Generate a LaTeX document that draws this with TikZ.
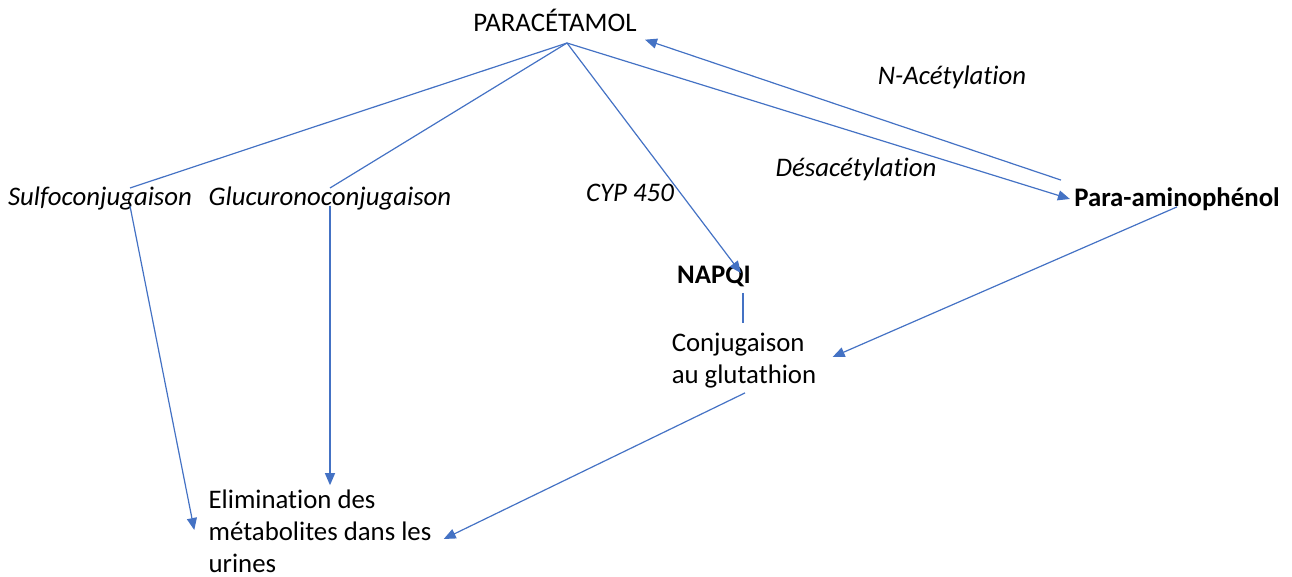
\documentclass[tikz,border=0pt]{standalone}
\usepackage{fontspec}
\setmainfont{Carlito}[Ligatures=NoCommon]
\usetikzlibrary{arrows.meta}

\definecolor{linkblue}{RGB}{68,114,196}

\tikzset{%
  step label/.style={inner sep=0pt, font=\fontsize{13.4}{16}\selectfont},
  enzyme label/.style={step label, font=\fontsize{13.4}{16}\selectfont\itshape},
  product label/.style={step label, font=\fontsize{13.4}{16}\selectfont\bfseries},
  link/.style={draw=linkblue, line width=0.6pt},
}

\begin{document}
\begin{tikzpicture}[x=0.5pt, y=-0.5pt, >={Triangle[length=6pt,width=5pt]}]
  \useasboundingbox (0,0) rectangle (1292,577);
  % main compound
  \node [step label] (paracetamol) at (555,20) {PARACÉTAMOL};
  \coordinate (hub) at (567,43);
  % conjugation routes
  \node [enzyme label] (sulfo) at (100,198) {Sulfoconjugaison};
  \node [enzyme label] (glucuro) at (330,198) {Glucuronoconjugaison};
  \node [enzyme label] (cyp) at (630,193) {CYP 450};
  \node [enzyme label] (desacet) at (856,169) {Désacétylation};
  \node [enzyme label] (nacet) at (952,77) {N-Acétylation};
  % products
  \node [product label] (napqi) at (714,276) {NAPQI};
  \node [product label] (pap) at (1177,199) {Para-aminophénol};
  \node [step label, align=left] (gsh) at (744,361) {Conjugaison\\au glutathion};
  \node [step label, align=left] (elim) at (320,531) {Elimination des\\métabolites dans les\\urines};

  % lines from paracetamol
  \draw [link] (hub) -- ([xshift=15pt,yshift=-1pt]sulfo.north);
  \draw [link] (hub) -- ([yshift=-1pt]glucuro.north);
  \draw [link, ->] (hub) -- ([xshift=13.5pt,yshift=-4pt]napqi.north);
  \draw [link, ->] (hub) -- ([xshift=-2pt]pap.west);
  \draw [link, ->] ([xshift=-58pt,yshift=3.5pt]pap.north) -- ([xshift=45pt,yshift=-4pt]paracetamol.south);

  % towards elimination
  \draw [link, ->] ([xshift=15pt,yshift=2pt]sulfo.south) -- ([xshift=-7pt,yshift=0.5pt]elim.west);
  \draw [link, ->] ([yshift=2pt]glucuro.south) -- ([xshift=5pt,yshift=2pt]elim.north);
  \draw [link] ([xshift=14.5pt,yshift=-3pt]napqi.south) -- ([xshift=-0.5pt,yshift=5pt]gsh.north);
  \draw [link, ->] ([yshift=2pt]pap.south) -- ([xshift=8pt,yshift=2pt]gsh.east);
  \draw [link, ->] ([xshift=0.5pt,yshift=-2pt]gsh.south) -- ([xshift=6pt,yshift=-4pt]elim.east);

\end{tikzpicture}
\end{document}
